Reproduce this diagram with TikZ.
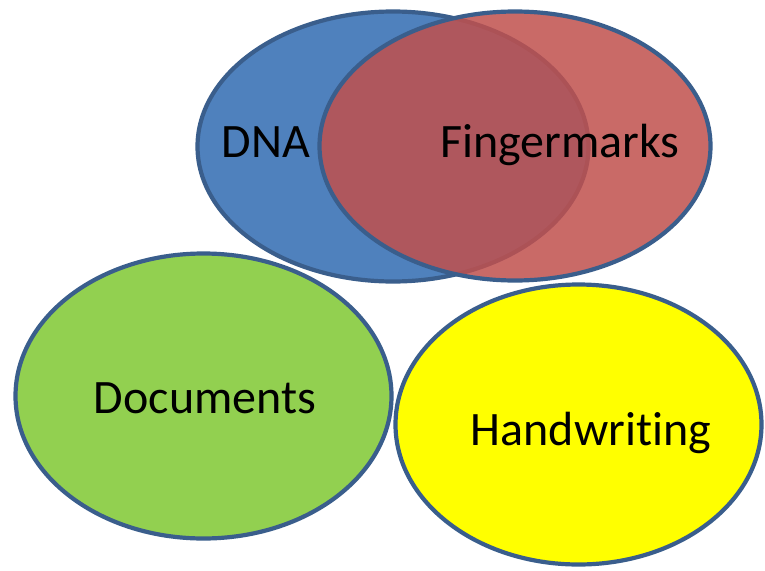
\documentclass[tikz,border=0pt]{standalone}
\usepackage{fontspec}
\setmainfont{Carlito}[RawFeature={-liga}]
\definecolor{edge}{HTML}{3A5E8C}
\definecolor{dnablue}{HTML}{4F81BD}
\definecolor{fmred}{HTML}{C0504D}
\definecolor{docgreen}{HTML}{92D050}
\definecolor{hwyellow}{HTML}{FFFF00}
\tikzset{
  blob/.style={draw=edge, line width=4.2pt},
  lbl/.style={font=\fontsize{48}{52}\selectfont, text=black, anchor=base, inner sep=0pt}
}
\begin{document}
\begin{tikzpicture}[x=1pt,y=-1pt]
\useasboundingbox[fill=white] (0,0) rectangle (765,570);
% DNA
\fill[dnablue] (393,146.5) ellipse [x radius=195.5, y radius=135];
\draw[blob] (393,146.5) ellipse [x radius=195.5, y radius=135];
% Fingermarks (semi-transparent)
\fill[fmred, fill opacity=0.85] (515,146) ellipse [x radius=195.5, y radius=134.5];
\draw[blob] (515,146) ellipse [x radius=195.5, y radius=134.5];
% Documents
\draw[blob, fill=docgreen] (203.5,396) ellipse [x radius=188, y radius=142.5];
% Handwriting
\draw[blob, fill=hwyellow] (578.5,424.5) ellipse [x radius=183, y radius=140];
% labels
\node[lbl] (dna) at (266,157) {DNA};
\node[lbl] (fm) at (560,157) {Fingermarks};
\node[lbl] (doc) at (205,413) {Documents};
\node[lbl] (hw) at (591,445) {Handwriting};
\end{tikzpicture}
\end{document}
